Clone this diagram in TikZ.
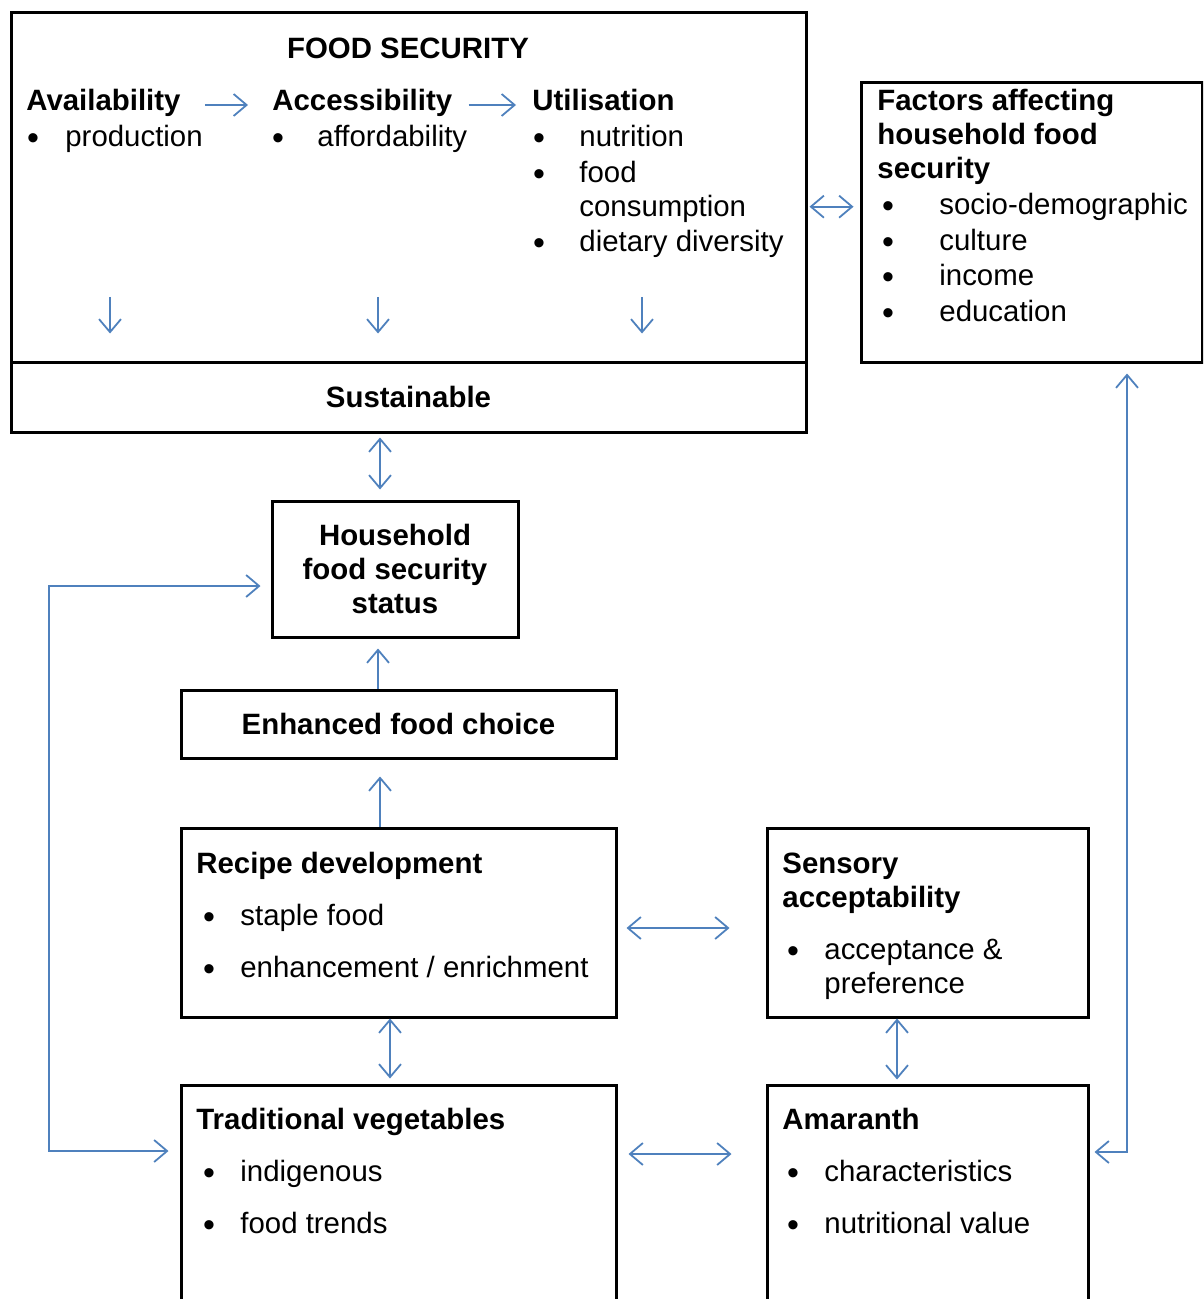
\documentclass[tikz,border=0pt]{standalone}
\usepackage{fontspec}
\setmainfont{Liberation Sans}
\usetikzlibrary{arrows.meta,fit}
\definecolor{linkblue}{RGB}{79,129,189}

\begin{document}
\begin{tikzpicture}[x=0.5pt, y=-0.5pt,
    box/.style={draw, line width=1.5pt, inner sep=0pt},
    base/.style={inner sep=0pt, font=\fontsize{14.7pt}{17pt}\selectfont},
    txt/.style={base, anchor=mid west, yshift=-2.5pt},
    ttl/.style={txt, font=\fontsize{14.7pt}{17pt}\selectfont\bfseries},
    ctr/.style={base, anchor=center, font=\fontsize{14.7pt}{17pt}\selectfont\bfseries},
    bul/.style={base, anchor=mid, yshift=-4.25pt, font=\fontsize{17pt}{17pt}\selectfont},
    link/.style={color=linkblue, line width=0.9pt, -{Straight Barb[length=6.5pt,width=11pt]}},
    dlink/.style={link, {Straight Barb[length=6.5pt,width=11pt]}-{Straight Barb[length=6.5pt,width=11pt]}}]

    \clip (0,0) rectangle (1203,1299);

    % boxes
    \node[box, fit={(11,13) (806,362)}] (fs) {};
    \node[box, fit={(11,362) (806,432)}] (sus) {};
    \node[box, fit={(861,83) (1202,362)}] (fac) {};
    \node[box, fit={(272,501) (518,637)}] (hh) {};
    \node[box, fit={(181,690) (616,758)}] (enh) {};
    \node[box, fit={(181,828) (616,1017)}] (rec) {};
    \node[box, fit={(767,828) (1088,1017)}] (sen) {};
    \node[box, fit={(181,1085) (616,1323)}] (trad) {};
    \node[box, fit={(767,1085) (1088,1323)}] (ama) {};

    % food security
    \node[ctr] (fstitle) at (408,48) {FOOD SECURITY};
    \node[ttl] (avail) at (26,100) {Availability};
    \node[ttl] (access) at (272,100) {Accessibility};
    \node[ttl] (util) at (532,100) {Utilisation};

    \node[bul] (b1) at (33,136) {\textbullet};
    \node[txt] (prod) at (65,136) {production};
    \node[bul] (b2) at (278,136) {\textbullet};
    \node[txt] (afford) at (317,136) {affordability};
    \node[bul] (b3) at (539,136) {\textbullet};
    \node[txt] (nutr) at (579,136) {nutrition};
    \node[bul] (b4) at (539,172) {\textbullet};
    \node[txt] (cons) at (579,172) {food};
    \node[txt] (cons2) at (579,206) {consumption};
    \node[bul] (b5) at (539,241) {\textbullet};
    \node[txt] (diet) at (579,241) {dietary diversity};

    \node[ctr] (sustxt) at (sus) {Sustainable};

    % factors
    \node[ttl] (fac1) at (877,100) {Factors affecting};
    \node[ttl] (fac2) at (877,134) {household food};
    \node[ttl] (fac3) at (877,168) {security};
    \node[bul] (b6) at (888,204) {\textbullet};
    \node[txt] (socio) at (939,204) {socio-demographic};
    \node[bul] (b7) at (888,240) {\textbullet};
    \node[txt] (cult) at (939,240) {culture};
    \node[bul] (b8) at (888,275) {\textbullet};
    \node[txt] (inc) at (939,275) {income};
    \node[bul] (b9) at (888,311) {\textbullet};
    \node[txt] (edu) at (939,311) {education};

    % middle column
    \node[ctr, align=center] (hhtxt) at (hh) {Household\\food security\\status};
    \node[ctr] (enhtxt) at (enh) {Enhanced food choice};

    \node[ttl] (rectxt) at (196,863) {Recipe development};
    \node[bul] (b10) at (209,915) {\textbullet};
    \node[txt] (staple) at (240,915) {staple food};
    \node[bul] (b11) at (209,967) {\textbullet};
    \node[txt] (enrich) at (240,967) {enhancement / enrichment};

    \node[ttl] (sen1) at (782,863) {Sensory};
    \node[ttl] (sen2) at (782,897) {acceptability};
    \node[bul] (b12) at (793,949) {\textbullet};
    \node[txt] (accept) at (824,949) {acceptance \&};
    \node[txt] (pref) at (824,983) {preference};

    \node[ttl] (tradtxt) at (196,1119) {Traditional vegetables};
    \node[bul] (b13) at (209,1171) {\textbullet};
    \node[txt] (indig) at (240,1171) {indigenous};
    \node[bul] (b14) at (209,1223) {\textbullet};
    \node[txt] (trend) at (240,1223) {food trends};

    \node[ttl] (amatxt) at (782,1119) {Amaranth};
    \node[bul] (b15) at (793,1171) {\textbullet};
    \node[txt] (charac) at (824,1171) {characteristics};
    \node[bul] (b16) at (793,1223) {\textbullet};
    \node[txt] (nval) at (824,1223) {nutritional value};

    % connectors
    \draw[link, shorten <=12pt, shorten >=12pt] (avail.mid east) -- (access.mid west);
    \draw[link, shorten <=8pt, shorten >=8pt] (access.mid east) -- (util.mid west);

    \coordinate (d1) at (110,297);
    \coordinate (d2) at (378,297);
    \coordinate (d3) at (642,297);
    \draw[link, shorten >=13.5pt] (d1) -- (d1 |- sus.north);
    \draw[link, shorten >=13.5pt] (d2) -- (d2 |- sus.north);
    \draw[link, shorten >=13.5pt] (d3) -- (d3 |- sus.north);

    \draw[dlink, shorten <=1pt, shorten >=3pt] (fs.east |- socio) -- (fac.west |- socio);
    \draw[dlink, shorten <=2pt, shorten >=5pt] ([xshift=-7.5pt]hh.north |- sus.south) -- ([xshift=-7.5pt]hh.north);
    \draw[link, shorten >=5pt] ([xshift=-8.5pt]hh.south |- enh.north) -- ([xshift=-8.5pt]hh.south);
    \draw[link, shorten >=8.5pt] ([xshift=-9.25pt]enh.south |- rec.north) -- ([xshift=-9.25pt]enh.south);
    \draw[dlink, shorten <=4.5pt, shorten >=18pt] ([yshift=-2.75pt]rec.east) -- ([yshift=-2.75pt]rec.east -| sen.west);
    \draw[dlink, shorten >=2.5pt] ([xshift=-4.25pt]rec.south) -- ([xshift=-4.25pt]rec.south |- trad.north);
    \draw[dlink, shorten >=2pt] ([xshift=-15.25pt]sen.south) -- ([xshift=-15.25pt]sen.south |- ama.north);
    \draw[dlink, shorten <=5.5pt, shorten >=17pt] ([yshift=25pt]trad.east) -- ([yshift=25pt]trad.east -| ama.west);

    \coordinate (lc) at (49,1151);
    \draw[dlink, shorten <=5pt, shorten >=5.5pt] ([yshift=-8.5pt]hh.west) -| (lc) -- (lc -| trad.west);
    \coordinate (rc) at (1127,1152);
    \draw[dlink, shorten <=5pt, shorten >=2.5pt] (rc |- fac.south) -- (rc) -- (rc -| ama.east);

\end{tikzpicture}
\end{document}
